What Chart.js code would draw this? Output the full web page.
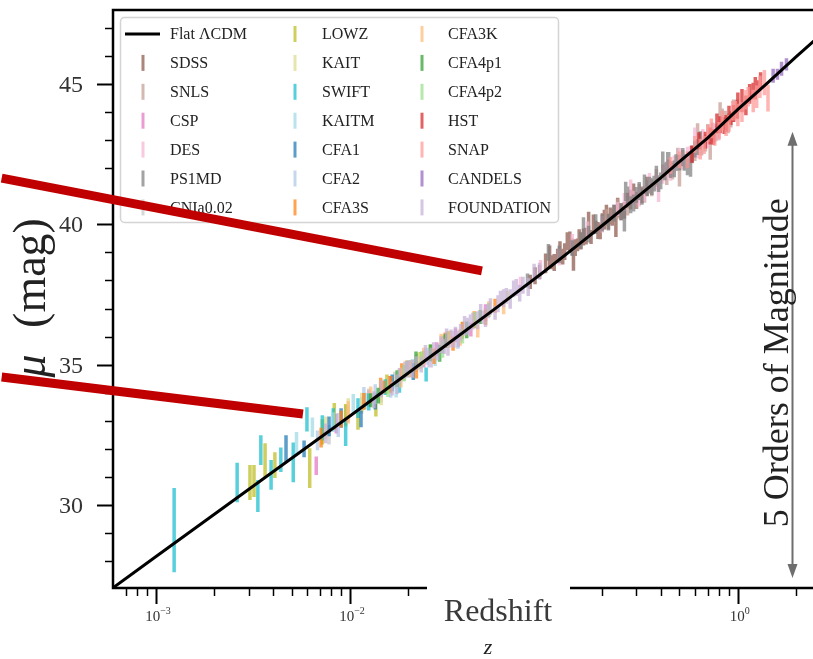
<!DOCTYPE html>
<html>
<head>
<meta charset="utf-8">
<script src="https://cdn.jsdelivr.net/npm/chart.js@4.4.0/dist/chart.umd.min.js"></script>
<style>
  html, body { margin: 0; padding: 0; background: #fff; }
  canvas { display: block; }
</style>
</head>
<body>
<canvas id="hubble" width="813" height="659"></canvas>
<script>
// axis limits
const zMin = 6.07e-4, zMax = 2.44;
const muMin = 27.04, muMax = 47.64;
const yTickLabels = [30, 35, 40, 45];
const xTickExps = [-3, -2, -1, 0];

// Flat LCDM distance modulus
const modelZ  = [0.0005, 0.001, 0.01, 0.03, 0.06, 0.1, 0.15, 0.2, 0.3, 0.4, 0.5, 0.7, 1.0, 1.4, 2.0, 3.0];
const modelMu = [26.65, 28.16, 33.17, 35.60, 37.15, 38.31, 39.27, 39.96, 40.95, 41.66, 42.24, 43.08, 44.10, 45.0, 45.98, 47.05];

// supernova samples: redshift, distance modulus, 1-sigma error
const sdssZ   = [0.085, 0.09, 0.095, 0.102, 0.107, 0.11, 0.113, 0.1177, 0.121, 0.125, 0.128, 0.132, 0.136, 0.14, 0.142, 0.145, 0.149, 0.152, 0.155, 0.16, 0.165, 0.17, 0.175, 0.18, 0.185, 0.19, 0.195, 0.2, 0.205, 0.21, 0.215, 0.22, 0.225, 0.23, 0.235, 0.24, 0.25, 0.26, 0.27, 0.28, 0.29, 0.3, 0.32, 0.34];
const sdssMu  = [37.95, 38.17, 38.3, 38.61, 38.85, 38.65, 38.64, 38.9, 39.05, 38.85, 39.03, 39.4, 39.37, 39.2, 38.75, 39.17, 39.27, 39.48, 39.4, 39.55, 39.58, 40.0, 39.55, 40.0, 39.9, 39.78, 39.75, 40.1, 40.17, 40.32, 40.1, 40.3, 40.25, 40.4, 39.95, 40.6, 40.45, 40.5, 40.85, 40.88, 41.11, 40.85, 41.05, 41.35];
const sdssErr = [0.25, 0.3, 0.25, 0.35, 0.4, 0.25, 0.3, 0.23, 0.35, 0.28, 0.3, 0.32, 0.38, 0.3, 0.4, 0.3, 0.23, 0.35, 0.3, 0.3, 0.3, 0.45, 0.25, 0.35, 0.23, 0.3, 0.28, 0.3, 0.35, 0.38, 0.28, 0.3, 0.3, 0.3, 0.4, 0.35, 0.3, 0.3, 0.28, 0.35, 0.35, 0.3, 0.3, 0.35];

const snlsZ   = [0.21, 0.24, 0.27, 0.3, 0.31, 0.33, 0.36, 0.38, 0.41, 0.43, 0.44, 0.46, 0.49, 0.5, 0.52, 0.55, 0.58, 0.6, 0.62, 0.63, 0.65, 0.68, 0.7, 0.72, 0.74, 0.77, 0.79, 0.81, 0.83, 0.86, 0.89, 0.92, 0.95, 0.99];
const snlsMu  = [40.25, 40.55, 40.6, 40.85, 41.15, 41.05, 41.3, 41.64, 41.85, 41.7, 42.0, 41.9, 42.38, 41.8, 42.35, 42.3, 42.5, 42.58, 43.2, 42.95, 42.75, 42.9, 43.23, 42.75, 43.3, 43.26, 43.3, 43.9, 43.75, 43.7, 43.6, 43.75, 44.05, 44.1];
const snlsErr = [0.3, 0.35, 0.28, 0.3, 0.3, 0.28, 0.3, 0.32, 0.28, 0.3, 0.3, 0.3, 0.35, 0.45, 0.3, 0.3, 0.32, 0.32, 0.4, 0.3, 0.3, 0.3, 0.35, 0.45, 0.32, 0.3, 0.3, 0.45, 0.38, 0.35, 0.35, 0.3, 0.4, 0.35];

const cspZ   = [0.0067, 0.0085, 0.0097, 0.0125, 0.016, 0.02, 0.024, 0.028, 0.035, 0.042, 0.05];
const cspMu  = [31.4, 32.9, 33.25, 33.8, 34.35, 34.85, 35.2, 35.55, 36.05, 36.25, 36.85];
const cspErr = [0.33, 0.35, 0.3, 0.3, 0.25, 0.3, 0.3, 0.25, 0.25, 0.25, 0.3];

const desZ   = [0.0756, 0.0961, 0.12, 0.14, 0.168, 0.2, 0.24, 0.26, 0.28, 0.29, 0.31, 0.33, 0.35, 0.38, 0.39, 0.41, 0.43, 0.45, 0.47, 0.5, 0.52, 0.55, 0.57, 0.6, 0.62, 0.66, 0.7, 0.75, 0.8];
const desMu  = [37.9, 38.5, 38.83, 39.34, 39.8, 40.01, 40.55, 40.8, 41.2, 40.95, 40.94, 41.1, 41.48, 41.5, 41.2, 41.77, 41.95, 41.85, 42.15, 42.37, 42.25, 42.45, 42.5, 43.05, 42.65, 43.05, 43.0, 43.25, 43.35];
const desErr = [0.23, 0.23, 0.3, 0.32, 0.3, 0.3, 0.25, 0.32, 0.4, 0.25, 0.3, 0.28, 0.35, 0.28, 0.4, 0.32, 0.3, 0.3, 0.3, 0.35, 0.3, 0.32, 0.3, 0.4, 0.3, 0.35, 0.3, 0.35, 0.35];

const ps1Z   = [0.0823, 0.1055, 0.12, 0.14, 0.155, 0.16, 0.17, 0.185, 0.2, 0.215, 0.23, 0.25, 0.26, 0.264, 0.27, 0.28, 0.29, 0.3, 0.31, 0.32, 0.33, 0.34, 0.35, 0.36, 0.37, 0.38, 0.39, 0.4, 0.41, 0.42, 0.435, 0.44, 0.45, 0.47, 0.48, 0.5, 0.52, 0.53, 0.55, 0.57, 0.58, 0.6, 0.62, 0.64];
const ps1Mu  = [38.0, 39.0, 38.93, 39.15, 39.43, 39.85, 39.65, 40.01, 40.05, 40.08, 40.4, 40.45, 40.15, 41.17, 41.0, 40.7, 40.76, 41.05, 41.19, 41.0, 41.43, 41.3, 41.4, 41.35, 41.45, 41.74, 41.45, 41.55, 42.15, 41.89, 42.23, 42.2, 41.95, 41.98, 42.2, 42.2, 42.4, 42.21, 42.05, 42.1, 42.5, 42.68, 42.75, 43.0];
const ps1Err = [0.25, 0.3, 0.32, 0.28, 0.3, 0.4, 0.3, 0.35, 0.3, 0.3, 0.3, 0.3, 0.4, 0.35, 0.35, 0.3, 0.3, 0.28, 0.32, 0.3, 0.35, 0.28, 0.3, 0.3, 0.28, 0.35, 0.3, 0.3, 0.45, 0.32, 0.35, 0.38, 0.3, 0.3, 0.3, 0.28, 0.32, 0.3, 0.3, 0.4, 0.3, 0.3, 0.28, 0.32];

const cniaZ   = [0.0078, 0.0095, 0.0115, 0.0125, 0.0145, 0.017, 0.019, 0.022];
const cniaMu  = [32.5, 33.2, 33.55, 33.85, 33.95, 34.45, 34.7, 35.05];
const cniaErr = [0.35, 0.35, 0.3, 0.3, 0.3, 0.3, 0.28, 0.3];

const lowzZ   = [0.00305, 0.0032, 0.00365, 0.0041, 0.0062, 0.0072, 0.0083, 0.0095, 0.011, 0.0136, 0.0155, 0.0196, 0.023, 0.026, 0.032];
const lowzMu  = [30.8, 30.85, 31.6, 31.42, 31.31, 32.6, 33.15, 33.2, 33.0, 33.5, 34.3, 34.85, 35.15, 35.4, 35.9];
const lowzErr = [0.62, 0.57, 0.6, 0.46, 0.71, 0.45, 0.48, 0.4, 0.32, 0.35, 0.35, 0.3, 0.3, 0.3, 0.3];

const kaitZ   = [0.0075, 0.0098, 0.0115, 0.0145, 0.018, 0.0225, 0.03, 0.038, 0.065];
const kaitMu  = [32.75, 33.4, 33.65, 33.85, 34.55, 35.1, 35.75, 36.3, 37.45];
const kaitErr = [0.4, 0.4, 0.35, 0.3, 0.3, 0.3, 0.3, 0.25, 0.18];

const swiftZ   = [0.00124, 0.00262, 0.00335, 0.00347, 0.00392, 0.0044, 0.0051, 0.006, 0.0072, 0.0082, 0.0095, 0.011, 0.0125, 0.0152, 0.018, 0.0205, 0.0247];
const swiftMu  = [29.1, 30.8, 30.32, 31.95, 31.07, 31.61, 31.52, 33.05, 32.75, 33.05, 32.6, 33.45, 33.67, 34.2, 34.3, 34.85, 34.65];
const swiftErr = [1.5, 0.7, 0.57, 0.53, 0.53, 0.44, 0.71, 0.43, 0.45, 0.4, 0.5, 0.35, 0.3, 0.28, 0.3, 0.3, 0.25];

const kaitmZ   = [0.0053, 0.0064, 0.0082, 0.0104, 0.012, 0.0173, 0.021, 0.0275];
const kaitmMu  = [32.2, 32.77, 32.95, 33.6, 33.7, 34.13, 34.9, 35.25];
const kaitmErr = [0.4, 0.35, 0.35, 0.35, 0.3, 0.3, 0.3, 0.3];

const cfa1Z   = [0.00468, 0.0058, 0.0078, 0.009, 0.0114, 0.0135, 0.0165, 0.0212];
const cfa1Mu  = [32.0, 32.0, 32.8, 33.1, 33.07, 33.7, 34.35, 34.75];
const cfa1Err = [0.48, 0.3, 0.35, 0.35, 0.3, 0.3, 0.3, 0.3];

const cfa2Z   = [0.0068, 0.0087, 0.0118, 0.0135, 0.0162, 0.02, 0.025, 0.03, 0.036];
const cfa2Mu  = [32.3, 32.85, 33.85, 33.95, 34.07, 34.85, 35.3, 35.7, 35.85];
const cfa2Err = [0.35, 0.43, 0.35, 0.35, 0.25, 0.3, 0.3, 0.3, 0.28];

const cfa3sZ   = [0.0071, 0.009, 0.0118, 0.0144, 0.0149, 0.0162, 0.0185, 0.022, 0.0271, 0.031, 0.034, 0.038, 0.0437, 0.05, 0.056];
const cfa3sMu  = [32.4, 33.06, 33.69, 34.3, 34.2, 34.3, 34.75, 34.81, 35.3, 35.87, 35.75, 36.22, 36.6, 36.69, 37.1];
const cfa3sErr = [0.35, 0.3, 0.3, 0.23, 0.23, 0.3, 0.3, 0.3, 0.28, 0.28, 0.25, 0.3, 0.3, 0.28, 0.25];

const cfa3kZ   = [0.0098, 0.0128, 0.0183, 0.0205, 0.024, 0.0295, 0.033, 0.037, 0.0456, 0.052, 0.062];
const cfa3kMu  = [33.3, 33.92, 34.54, 34.85, 35.3, 35.8, 35.97, 35.97, 36.2, 36.98, 37.05];
const cfa3kErr = [0.4, 0.3, 0.35, 0.3, 0.3, 0.3, 0.23, 0.3, 0.23, 0.28, 0.25];

const cfa4p1Z   = [0.0128, 0.014, 0.0175, 0.0219, 0.026, 0.029, 0.031, 0.04, 0.047];
const cfa4p1Mu  = [33.73, 33.9, 34.5, 35.2, 35.43, 35.4, 35.85, 36.24, 36.7];
const cfa4p1Err = [0.25, 0.28, 0.3, 0.27, 0.3, 0.3, 0.25, 0.3, 0.25];

const cfa4p2Z   = [0.0157, 0.019, 0.0235, 0.03, 0.038, 0.044, 0.052];
const cfa4p2Mu  = [34.05, 34.7, 35.2, 35.55, 36.0, 36.6, 36.95];
const cfa4p2Err = [0.2, 0.3, 0.28, 0.3, 0.25, 0.28, 0.25];

const hstZ   = [0.58, 0.63, 0.68, 0.72, 0.75, 0.78, 0.81, 0.85, 0.87, 0.9, 0.92, 0.95, 0.995, 1.0, 1.05, 1.1, 1.15, 1.2, 1.23, 1.26, 1.31];
const hstMu  = [42.5, 42.98, 43.0, 43.15, 43.12, 43.6, 43.55, 43.52, 43.6, 43.93, 43.77, 43.95, 44.1, 44.35, 44.41, 44.24, 44.65, 44.75, 44.85, 44.96, 45.12];
const hstErr = [0.3, 0.3, 0.3, 0.3, 0.28, 0.35, 0.3, 0.3, 0.3, 0.3, 0.23, 0.3, 0.33, 0.35, 0.41, 0.35, 0.35, 0.3, 0.4, 0.18, 0.3];

const snapZ   = [0.45, 0.5, 0.55, 0.6, 0.64, 0.67, 0.7, 0.73, 0.76, 0.8, 0.83, 0.87, 0.9, 0.94, 0.97, 1.0, 1.05, 1.1, 1.13, 1.2, 1.25, 1.3, 1.37, 1.43];
const snapMu  = [42.1, 42.3, 42.3, 42.85, 42.68, 42.83, 43.24, 43.42, 43.1, 43.35, 43.7, 43.45, 43.6, 44.05, 44.05, 43.9, 44.0, 44.44, 44.55, 44.4, 44.55, 44.9, 45.05, 44.5];
const snapErr = [0.3, 0.3, 0.3, 0.3, 0.37, 0.32, 0.3, 0.35, 0.3, 0.3, 0.35, 0.3, 0.3, 0.35, 0.35, 0.4, 0.35, 0.35, 0.35, 0.4, 0.4, 0.4, 0.45, 0.48];

const candelsZ   = [1.52, 1.6, 1.68, 1.78];
const candelsMu  = [45.3, 45.35, 45.55, 45.7];
const candelsErr = [0.25, 0.2, 0.25, 0.22];

const foundZ   = [0.0075, 0.0133, 0.0145, 0.0165, 0.0175, 0.018, 0.0192, 0.0199, 0.021, 0.022, 0.0233, 0.0245, 0.0256, 0.0262, 0.027, 0.0284, 0.0295, 0.0306, 0.0315, 0.032, 0.0332, 0.0344, 0.035, 0.0362, 0.0372, 0.039, 0.0404, 0.0418, 0.043, 0.0455, 0.0472, 0.0485, 0.05, 0.0515, 0.053, 0.056, 0.058, 0.0597, 0.062, 0.064, 0.067, 0.0698, 0.072, 0.075, 0.078, 0.083, 0.089, 0.095];
const foundMu  = [32.55, 33.75, 34.14, 34.15, 34.3, 34.6, 34.81, 34.9, 34.85, 35.05, 35.0, 35.4, 35.2, 35.25, 35.5, 35.45, 35.71, 35.65, 36.01, 35.6, 35.93, 35.9, 36.1, 35.92, 36.15, 36.38, 36.37, 36.49, 36.55, 36.58, 36.86, 36.68, 36.69, 36.9, 37.07, 36.85, 37.17, 37.4, 37.37, 37.45, 37.34, 37.7, 37.75, 37.55, 37.83, 37.77, 38.3, 38.33];
const foundErr = [0.35, 0.3, 0.3, 0.25, 0.35, 0.28, 0.3, 0.23, 0.32, 0.25, 0.28, 0.3, 0.3, 0.35, 0.3, 0.3, 0.3, 0.27, 0.28, 0.28, 0.32, 0.3, 0.25, 0.3, 0.3, 0.35, 0.3, 0.3, 0.3, 0.32, 0.3, 0.23, 0.35, 0.25, 0.3, 0.25, 0.3, 0.23, 0.32, 0.28, 0.35, 0.3, 0.3, 0.3, 0.3, 0.32, 0.3, 0.3];

// legend order (column by column)
const surveys = [
  ['SDSS', sdssZ, sdssMu, sdssErr, '#8c564b'],
  ['SNLS', snlsZ, snlsMu, snlsErr, '#c49c94'],
  ['CSP', cspZ, cspMu, cspErr, '#e377c2'],
  ['DES', desZ, desMu, desErr, '#f7b6d2'],
  ['PS1MD', ps1Z, ps1Mu, ps1Err, '#7f7f7f'],
  ['CNIa0.02', cniaZ, cniaMu, cniaErr, '#c7c7c7'],
  ['LOWZ', lowzZ, lowzMu, lowzErr, '#bcbd22'],
  ['KAIT', kaitZ, kaitMu, kaitErr, '#dbdb8d'],
  ['SWIFT', swiftZ, swiftMu, swiftErr, '#17becf'],
  ['KAITM', kaitmZ, kaitmMu, kaitmErr, '#9edae5'],
  ['CFA1', cfa1Z, cfa1Mu, cfa1Err, '#1f77b4'],
  ['CFA2', cfa2Z, cfa2Mu, cfa2Err, '#aec7e8'],
  ['CFA3S', cfa3sZ, cfa3sMu, cfa3sErr, '#ff7f0e'],
  ['CFA3K', cfa3kZ, cfa3kMu, cfa3kErr, '#ffbb78'],
  ['CFA4p1', cfa4p1Z, cfa4p1Mu, cfa4p1Err, '#2ca02c'],
  ['CFA4p2', cfa4p2Z, cfa4p2Mu, cfa4p2Err, '#98df8a'],
  ['HST', hstZ, hstMu, hstErr, '#d62728'],
  ['SNAP', snapZ, snapMu, snapErr, '#ff9896'],
  ['CANDELS', candelsZ, candelsMu, candelsErr, '#9467bd'],
  ['FOUNDATION', foundZ, foundMu, foundErr, '#c5b0d5']
];

// pointer lines and the magnitude arrow, in (z, mu)
const pointers = [
  [[1.6e-4, 41.65], [0.0479, 38.34]],
  [[1.6e-4, 34.56], [0.00572, 33.24]]
];
const arrowZ = 1.9, arrowMu = [27.4, 43.3];

function withAlpha(hex, a) {
  const n = parseInt(hex.slice(1), 16);
  return `rgba(${n >> 16},${(n >> 8) & 255},${n & 255},${a})`;
}

// each error bar becomes a vertical segment; a null point breaks the path
function errorSegments(z, mu, err) {
  const pts = [];
  z.forEach((zi, i) => {
    pts.push({x: zi, y: mu[i] - err[i]}, {x: zi, y: mu[i] + err[i]}, {x: zi, y: null});
  });
  return pts;
}

const datasets = [{
  label: 'Flat \u039BCDM',
  data: modelZ.map((z, i) => ({x: z, y: modelMu[i]})),
  borderColor: '#000',
  borderWidth: 3,
  pointRadius: 0,
  order: 0
}];
surveys.forEach(([name, z, mu, err, color], i) => {
  datasets.push({
    label: name,
    data: errorSegments(z, mu, err),
    borderColor: withAlpha(color, 0.72),
    borderWidth: 3.5,
    borderCapStyle: 'butt',
    pointRadius: 0,
    spanGaps: false,
    order: 50 - i
  });
});

const SERIF = '"Liberation Serif", "DejaVu Serif", serif';

const overlay = {
  id: 'overlay',
  afterDraw(chart) {
    const {ctx, chartArea: a, scales: {x, y}} = chart;
    ctx.save();

    // tick marks and value labels on the mu axis
    ctx.strokeStyle = '#000';
    ctx.fillStyle = '#333';
    ctx.font = `24px ${SERIF}`;
    ctx.textAlign = 'right';
    ctx.textBaseline = 'middle';
    for (let m = Math.ceil(muMin); m <= muMax; m++) {
      const py = Math.round(y.getPixelForValue(m)) + 0.5;
      const major = m % 5 === 0;
      ctx.lineWidth = major ? 2 : 1.5;
      ctx.beginPath();
      ctx.moveTo(a.left, py);
      ctx.lineTo(a.left - (major ? 16 : 8), py);
      ctx.stroke();
      if (yTickLabels.includes(m)) ctx.fillText(String(m), a.left - 30, py + 1);
    }
    for (let e = -4; e <= 0; e++) {
      for (let k = 1; k <= 9; k++) {
        const v = k * Math.pow(10, e);
        if (v < zMin || v > zMax) continue;
        const px = Math.round(x.getPixelForValue(v)) + 0.5;
        ctx.lineWidth = k === 1 ? 2 : 1.5;
        ctx.beginPath();
        ctx.moveTo(px, a.bottom);
        ctx.lineTo(px, a.bottom + (k === 1 ? 16 : 8));
        ctx.stroke();
      }
    }

    // decade labels 10^e
    ctx.textBaseline = 'alphabetic';
    ctx.textAlign = 'left';
    xTickExps.forEach(e => {
      const px = x.getPixelForValue(Math.pow(10, e));
      const sup = e === 0 ? '0' : '\u2212' + Math.abs(e);
      ctx.font = `15px ${SERIF}`;
      const wb = ctx.measureText('10').width;
      ctx.font = `10px ${SERIF}`;
      const ws = ctx.measureText(sup).width;
      const x0 = px - (wb + ws) / 2 + 2;
      ctx.font = `15px ${SERIF}`;
      ctx.fillText('10', x0, a.bottom + 33);
      ctx.font = `10px ${SERIF}`;
      ctx.fillText(sup, x0 + wb, a.bottom + 26);
    });

    // spines
    ctx.lineWidth = 2.5;
    ctx.beginPath();
    ctx.moveTo(a.right, a.top);
    ctx.lineTo(a.left, a.top);
    ctx.lineTo(a.left, a.bottom);
    ctx.lineTo(a.right, a.bottom);
    ctx.stroke();

    // legend
    ctx.fillStyle = 'rgba(255,255,255,0.8)';
    ctx.strokeStyle = '#d4d4d4';
    ctx.lineWidth = 1.5;
    ctx.beginPath();
    ctx.roundRect(120.5, 17.5, 438, 205, 4);
    ctx.fill();
    ctx.stroke();
    const handleX = [143, 295, 422], labelX = [170, 322, 448];
    ctx.font = `16px ${SERIF}`;
    ctx.textBaseline = 'middle';
    chart.data.datasets.forEach((ds, i) => {
      const col = Math.floor(i / 7), cy = 34 + (i % 7) * 28.9;
      ctx.strokeStyle = ds.borderColor;
      ctx.lineWidth = 3;
      ctx.beginPath();
      if (i === 0) {
        ctx.moveTo(125, cy);
        ctx.lineTo(160, cy);
      } else {
        ctx.moveTo(handleX[col], cy - 8);
        ctx.lineTo(handleX[col], cy + 8);
      }
      ctx.stroke();
      ctx.fillStyle = '#222';
      ctx.fillText(ds.label, labelX[col], cy + 1);
    });

    // axis titles
    ctx.fillStyle = '#fff';
    ctx.fillRect(427, a.bottom - 3, 143, 42);
    ctx.fillStyle = '#3a3a3a';
    ctx.textAlign = 'center';
    ctx.textBaseline = 'alphabetic';
    ctx.font = `32px ${SERIF}`;
    ctx.fillText('Redshift', 498, a.bottom + 33);
    ctx.fillStyle = '#222';
    ctx.font = `italic 22px ${SERIF}`;
    ctx.fillText('z', 488, a.bottom + 66);

    ctx.save();
    ctx.translate(45, 273);
    ctx.rotate(-Math.PI / 2);
    ctx.font = `46px ${SERIF}`;
    ctx.fillText('(mag)', 0, 0);
    ctx.restore();
    ctx.save();
    ctx.translate(45, 366);
    ctx.rotate(-Math.PI / 2);
    ctx.font = `italic 46px ${SERIF}`;
    ctx.fillText('\u03BC', 0, 0);
    ctx.restore();

    // magnitude arrow with caption
    const ax = Math.round(x.getPixelForValue(arrowZ)) + 0.5;
    const yLo = y.getPixelForValue(arrowMu[0]), yHi = y.getPixelForValue(arrowMu[1]);
    ctx.strokeStyle = ctx.fillStyle = '#6e6e6e';
    ctx.lineWidth = 2;
    ctx.beginPath();
    ctx.moveTo(ax, yHi + 10);
    ctx.lineTo(ax, yLo - 10);
    ctx.stroke();
    ctx.beginPath();
    ctx.moveTo(ax, yHi); ctx.lineTo(ax - 5, yHi + 14); ctx.lineTo(ax + 5, yHi + 14);
    ctx.closePath(); ctx.fill();
    ctx.beginPath();
    ctx.moveTo(ax, yLo); ctx.lineTo(ax - 5, yLo - 14); ctx.lineTo(ax + 5, yLo - 14);
    ctx.closePath(); ctx.fill();
    ctx.save();
    ctx.translate(ax - 5, (yLo + yHi) / 2 + 8);
    ctx.rotate(-Math.PI / 2);
    ctx.fillStyle = '#222';
    ctx.font = `36px ${SERIF}`;
    ctx.fillText('5 Orders of Magnitude', 0, 0);
    ctx.restore();

    // red pointer lines
    ctx.strokeStyle = '#c00000';
    ctx.lineWidth = 9;
    ctx.lineCap = 'butt';
    pointers.forEach(([p0, p1]) => {
      ctx.beginPath();
      ctx.moveTo(x.getPixelForValue(p0[0]), y.getPixelForValue(p0[1]));
      ctx.lineTo(x.getPixelForValue(p1[0]), y.getPixelForValue(p1[1]));
      ctx.stroke();
    });

    ctx.restore();
  }
};

new Chart(document.getElementById('hubble'), {
  type: 'line',
  data: {datasets},
  options: {
    responsive: false,
    animation: false,
    layout: {padding: {top: 10, right: 0, left: 0, bottom: 0}},
    plugins: {legend: {display: false}, tooltip: {enabled: false}},
    scales: {
      x: {
        type: 'logarithmic',
        min: zMin,
        max: zMax,
        grid: {display: false},
        border: {display: false},
        ticks: {display: false},
        afterFit: s => { s.height = 71; }
      },
      y: {
        type: 'linear',
        min: muMin,
        max: muMax,
        grid: {display: false},
        border: {display: false},
        ticks: {display: false},
        afterFit: s => { s.width = 113; }
      }
    }
  },
  plugins: [overlay]
});
</script>
</body>
</html>
